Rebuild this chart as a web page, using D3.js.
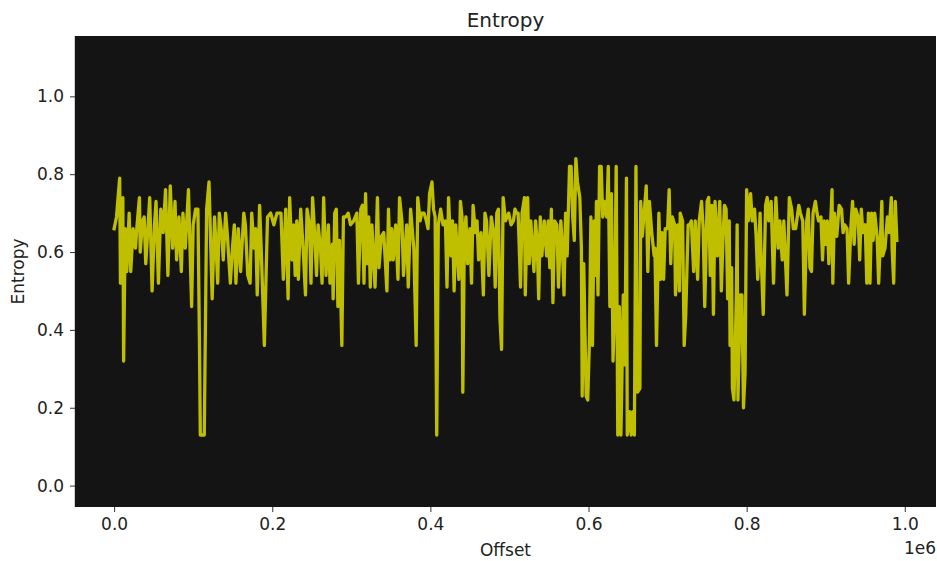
<!DOCTYPE html>
<html>
<head>
<meta charset="utf-8">
<script src="https://cdn.jsdelivr.net/npm/d3@7"></script>
<style>
    body { margin: 0; background: #fff; }
    text { font-family: 'DejaVu Sans', sans-serif; fill: #222; }
</style>
</head>
<body>
<svg id="chart" width="937" height="561"></svg>
<script>
// Offsets in thousands of bytes
var offsetK = [
    0,3,7,8,11,12,14,16,19,21,24,27,29,32,33,36,38,40,43,45,48,51,53,56,59,62,65,68,71,74,77,79,82,85,87,90,94,98,100,103,106,108,109,114,
    117,120,124,127,129,131,133,136,138,141,143,147,150,152,154,157,160,164,166,169,172,174,177,179,181,184,186,190,194,198,202,206,211,214,217,220,222,225,227,229,231,233,
    236,239,242,244,247,249,251,253,256,258,261,263,265,268,271,273,276,277,279,281,283,285,288,290,293,296,299,303,307,309,312,314,316,318,320,322,324,326,330,333,335,338,341,345,347,349,351,
    353,356,359,361,364,366,370,372,375,377,379,382,384,387,389,392,395,397,399,402,404,406,408,410,413,416,419,421,423,426,428,430,432,436,438,440,441,443,445,447,450,452,454,457,459,461,464,467,469,471,474,
    477,480,482,484,486,488,490,492,495,499,502,505,507,509,511,514,516,519,520,523,525,527,529,531,533,535,537,539,541,544,547,549,551,553,555,557,560,562,565,567,569,571,573,576,578,580,582,584,586,589,591,592,
    594,597,599,601,603,605,607,609,610,612,614,616,618,620,623,625,627,629,631,633,635,637,639,641,644,646,648,649,652,654,656,658,660,662,665,666,668,670,673,675,677,680,683,684,686,689,691,693,695,697,700,702,704,706,
    709,710,713,715,716,719,721,723,726,728,730,733,735,738,740,743,745,747,750,752,754,756,758,760,763,766,768,770,772,774,776,778,779,781,782,784,787,788,789,792,794,796,798,800,802,805,807,810,812,814,817,818,821,824,826,828,
    831,834,837,840,842,845,847,851,854,857,859,862,866,868,871,873,876,878,880,882,884,887,889,891,894,896,898,900,902,904,906,908,909,911,914,917,920,922,924,927,929,932,934,936,938,941,943,945,947,
    950,952,954,956,958,960,962,965,967,971,972,975,978,980,983,984,986,988,990
];

var entropy = [
    .66,.69,.79,.52,.74,.32,.66,.55,.70,.55,.66,.61,.67,.74,.60,.68,.69,.57,.67,.74,.50,.67,.73,.52,.71,.65,.76,.54,.77,.61,.73,.58,.69,.55,.70,.61,.76,.46,.67,.71,.71,.35,.13,.13,
    .71,.78,.48,.69,.61,.52,.70,.65,.58,.70,.65,.52,.62,.67,.52,.66,.55,.70,.67,.54,.52,.70,.61,.66,.49,.72,.61,.36,.69,.70,.67,.70,.70,.53,.71,.48,.74,.58,.67,.54,.68,.53,
    .71,.61,.49,.71,.67,.52,.74,.67,.54,.67,.61,.52,.74,.54,.67,.52,.62,.48,.70,.71,.46,.63,.36,.69,.69,.70,.67,.68,.70,.52,.71,.72,.52,.75,.57,.69,.51,.67,.51,.74,.56,.64,.65,.50,.71,.58,.66,
    .58,.67,.53,.74,.68,.54,.67,.51,.71,.66,.61,.36,.74,.68,.70,.70,.68,.66,.75,.78,.71,.69,.13,.67,.71,.67,.68,.51,.74,.59,.68,.50,.67,.53,.73,.69,.24,.65,.69,.57,.66,.52,.72,.65,.68,.58,.65,.49,.70,.68,.54,
    .69,.65,.51,.70,.71,.43,.35,.74,.68,.70,.67,.68,.71,.70,.70,.51,.70,.74,.49,.74,.57,.68,.61,.55,.68,.63,.48,.69,.59,.68,.59,.68,.56,.71,.47,.68,.67,.51,.68,.61,.49,.70,.59,.82,.82,.69,.63,.84,.78,.74,.61,.23,
    .57,.23,.22,.36,.69,.36,.68,.54,.73,.49,.82,.82,.69,.73,.69,.82,.46,.75,.32,.46,.82,.13,.46,.13,.49,.31,.79,.13,.19,.13,.19,.13,.82,.24,.25,.73,.64,.69,.77,.55,.73,.65,.59,.61,.36,.70,.53,.65,.53,.66,.66,.76,.57,.69,
    .67,.49,.67,.50,.70,.68,.36,.44,.67,.67,.68,.55,.68,.53,.68,.73,.66,.46,.73,.74,.54,.72,.44,.73,.59,.73,.50,.63,.72,.71,.48,.68,.36,.56,.25,.22,.49,.67,.22,.49,.49,.20,.29,.76,.68,.75,.68,.71,.64,.53,.70,.61,.44,.72,.74,.68,
    .73,.52,.74,.61,.68,.58,.68,.49,.74,.71,.66,.66,.72,.70,.68,.44,.68,.71,.56,.55,.70,.73,.70,.68,.69,.58,.68,.62,.68,.57,.66,.76,.52,.70,.64,.72,.71,.65,.67,.66,.52,.67,.73,.62,.71,.69,.58,.71,.65,
    .67,.52,.70,.52,.70,.63,.70,.64,.52,.73,.59,.61,.69,.65,.74,.61,.52,.73,.63
];

// Tick values and labels
var xTicks = [0, 200000, 400000, 600000, 800000, 1000000];
var xTickLabels = ['0.0', '0.2', '0.4', '0.6', '0.8', '1.0'];
var yTicks = [0, 0.2, 0.4, 0.6, 0.8, 1.0];
var yTickLabels = ['0.0', '0.2', '0.4', '0.6', '0.8', '1.0'];

var svg = d3.select('#chart');

// Plot area in page pixels
var plot = {l: 75, t: 36, r: 936, b: 507};

var data = offsetK.map(function(d, i) {
    return {offset: d * 1000, value: entropy[i]};
});

var xScale = d3.scaleLinear()
    .domain([-49500, 1039500])
    .range([plot.l, plot.r]);

var yScale = d3.scaleLinear()
    .domain([-0.055, 1.155])
    .range([plot.b, plot.t]);

// Dark axes background
svg.append('rect')
    .attr('x', plot.l)
    .attr('y', plot.t)
    .attr('width', plot.r - plot.l)
    .attr('height', plot.b - plot.t)
    .attr('fill', '#141414');

// Left spine
svg.append('line')
    .attr('x1', plot.l - 0.5).attr('x2', plot.l - 0.5)
    .attr('y1', plot.t).attr('y2', plot.b)
    .attr('stroke', '#d0d0d0')
    .attr('stroke-width', 1);

svg.append('clipPath').attr('id', 'clip')
    .append('rect')
    .attr('x', plot.l).attr('y', plot.t)
    .attr('width', plot.r - plot.l).attr('height', plot.b - plot.t);

var line = d3.line()
    .x(function(d) { return xScale(d.offset); })
    .y(function(d) { return yScale(d.value); });

svg.append('path')
    .datum(data)
    .attr('clip-path', 'url(#clip)')
    .attr('d', line)
    .attr('fill', 'none')
    .attr('stroke', '#bfbf00')
    .attr('stroke-width', 3.3)
    .attr('stroke-linejoin', 'round')
    .attr('stroke-linecap', 'square');

// Axes
var xAxis = d3.axisBottom(xScale)
    .tickValues(xTicks)
    .tickSize(5)
    .tickPadding(6)
    .tickFormat(function(d, i) { return xTickLabels[i]; });

var yAxis = d3.axisLeft(yScale)
    .tickValues(yTicks)
    .tickSize(5)
    .tickPadding(6)
    .tickFormat(function(d, i) { return yTickLabels[i]; });

var xG = svg.append('g')
    .attr('transform', 'translate(0,' + plot.b + ')')
    .call(xAxis);

var yG = svg.append('g')
    .attr('transform', 'translate(' + plot.l + ',0)')
    .call(yAxis);

[xG, yG].forEach(function(g) {
    g.select('.domain').remove();
    g.selectAll('.tick line').attr('stroke', '#333').attr('stroke-width', 1);
    g.selectAll('.tick text')
        .style('font-family', "'DejaVu Sans', sans-serif")
        .style('font-size', '17px')
        .attr('fill', '#222');
});

// Title and axis labels
svg.append('text')
    .attr('x', (plot.l + plot.r) / 2)
    .attr('y', 27)
    .attr('text-anchor', 'middle')
    .style('font-size', '20px')
    .text('Entropy');

svg.append('text')
    .attr('x', (plot.l + plot.r) / 2)
    .attr('y', 556)
    .attr('text-anchor', 'middle')
    .style('font-size', '17px')
    .text('Offset');

svg.append('text')
    .attr('transform', 'translate(24,' + (plot.t + plot.b) / 2 + ') rotate(-90)')
    .attr('text-anchor', 'middle')
    .style('font-size', '17px')
    .text('Entropy');

// Offset multiplier shown by matplotlib
svg.append('text')
    .attr('x', plot.r)
    .attr('y', 554)
    .attr('text-anchor', 'end')
    .style('font-size', '17px')
    .text('1e6');
</script>
</body>
</html>
